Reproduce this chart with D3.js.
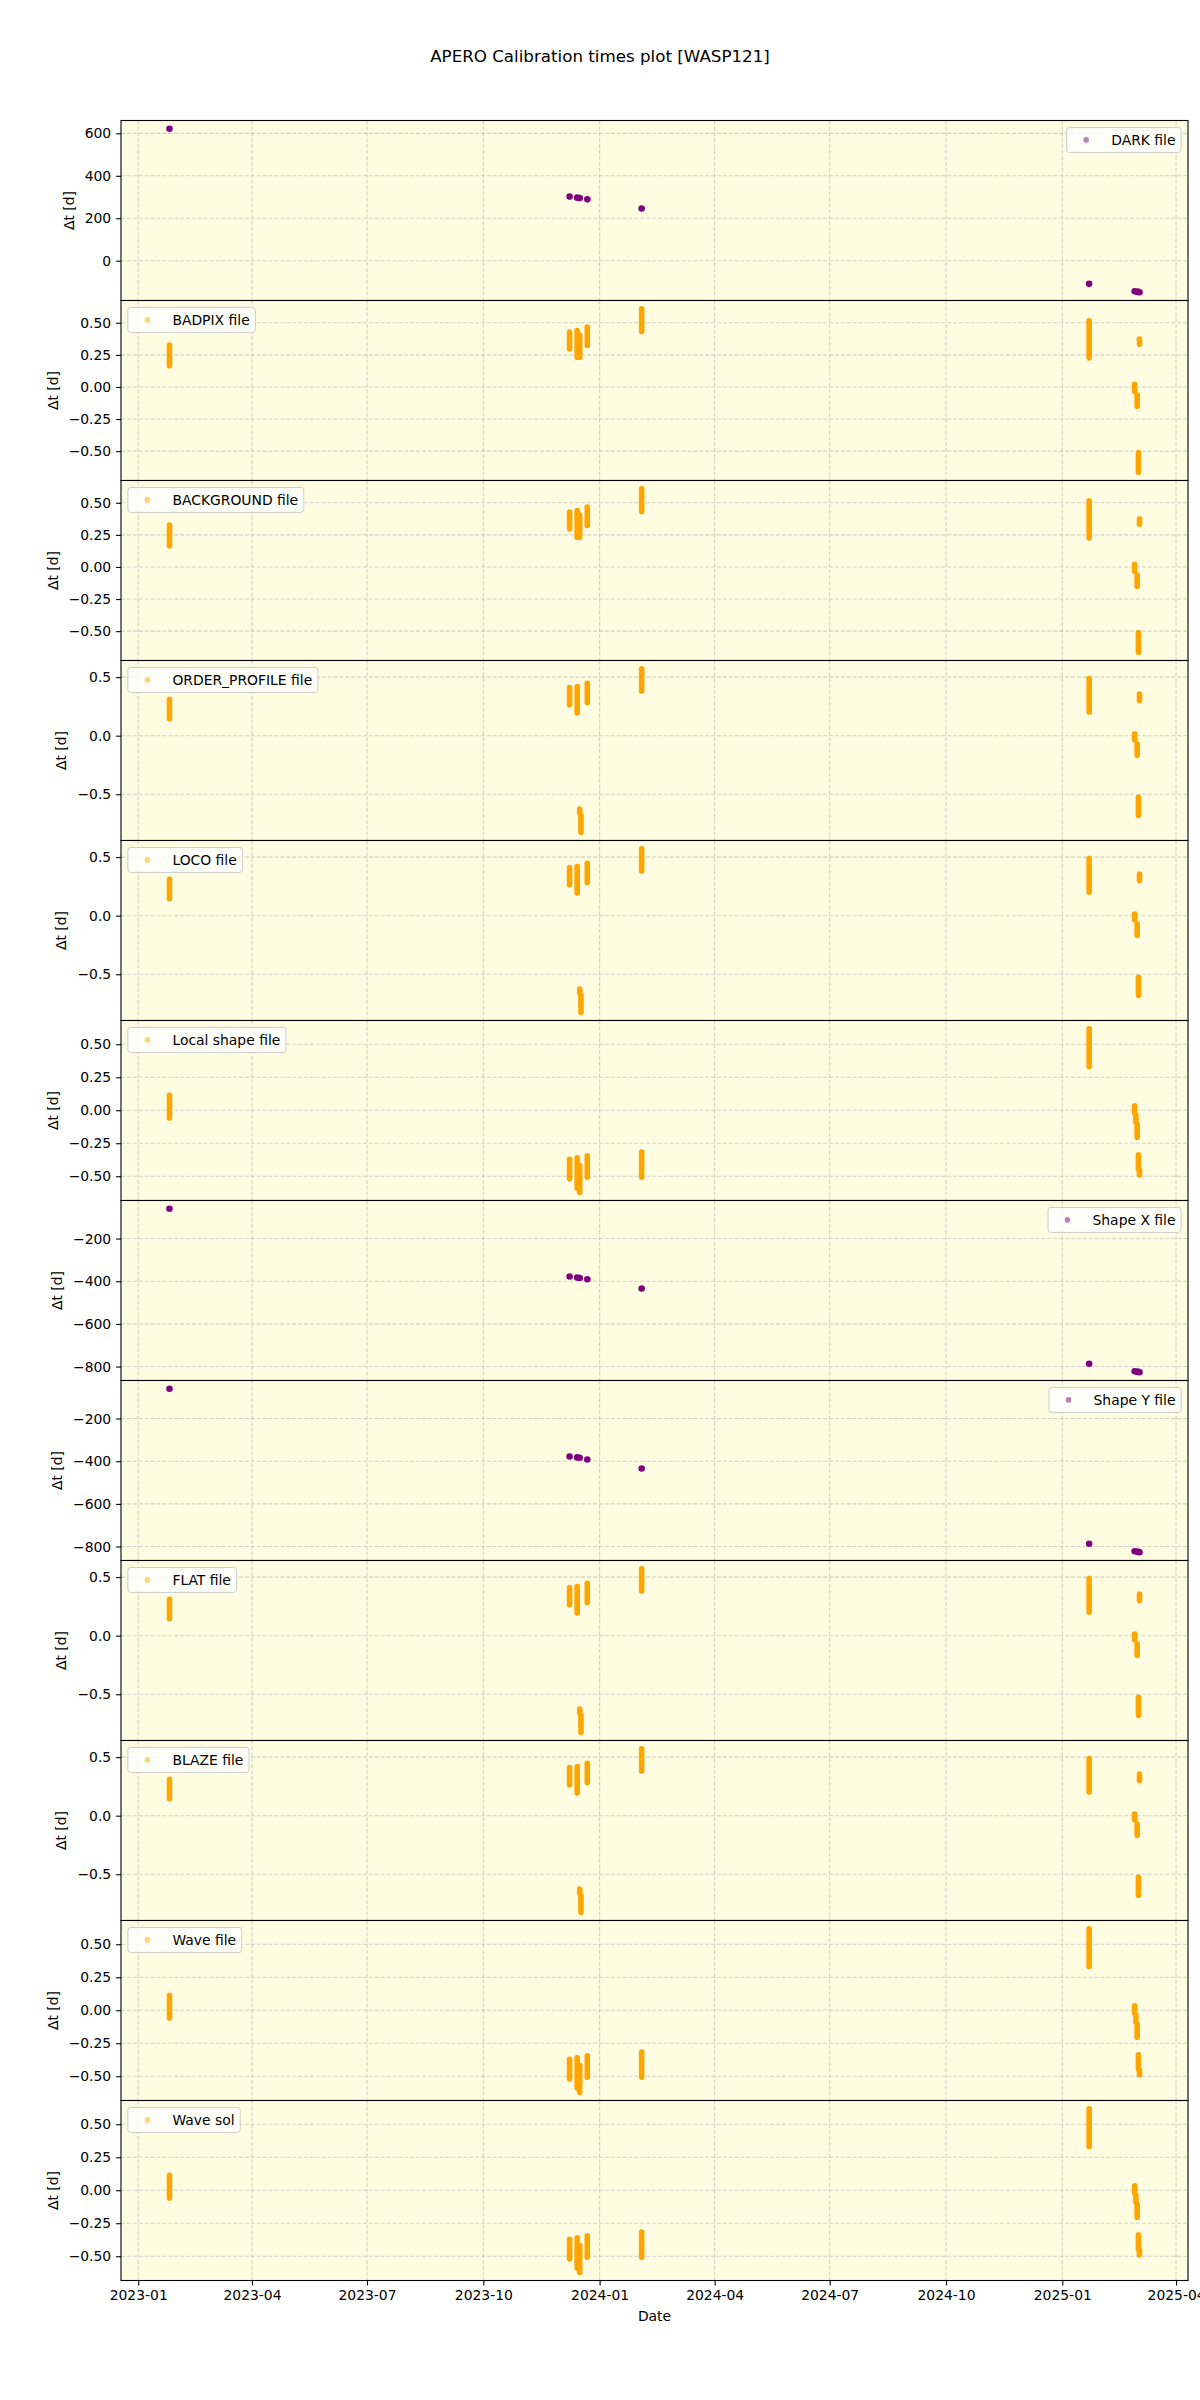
<!DOCTYPE html>
<html>
<head>
<meta charset="utf-8">
<script src="https://cdn.jsdelivr.net/npm/d3@7"></script>
<style>
body { margin: 0; background: #fff; }
text { font-family: "DejaVu Sans", sans-serif; }
</style>
</head>
<body>
<svg id="calib-plot" width="1200" height="2400"></svg>
<script>
// --- values (dt in days) ---
// purple panels: one dot per night [night, dt]
const darkDt = [
    ["2023-01-25 18:00", 622], ["2023-12-08 06:00", 302], ["2023-12-14 06:00", 297],
    ["2023-12-16 06:00", 295], ["2023-12-22 06:00", 289], ["2024-02-03 06:00", 246],
    ["2025-01-22 06:00", -109], ["2025-02-27 06:00", -144], ["2025-03-01 06:00", -146],
    ["2025-03-02 06:00", -147], ["2025-03-03 02:00", -149]
];
const shapeXDt = [
    ["2023-01-25 18:00", -60], ["2023-12-08 06:00", -378], ["2023-12-14 06:00", -383],
    ["2023-12-16 06:00", -385], ["2023-12-22 06:00", -391], ["2024-02-03 06:00", -434],
    ["2025-01-22 06:00", -787], ["2025-02-27 06:00", -822], ["2025-03-01 06:00", -824],
    ["2025-03-02 06:00", -825], ["2025-03-03 02:00", -827]
];
const shapeYDt = [
    ["2023-01-25 18:00", -60], ["2023-12-08 06:00", -378], ["2023-12-14 06:00", -382],
    ["2023-12-16 06:00", -384], ["2023-12-22 06:00", -392], ["2024-02-03 06:00", -434],
    ["2025-01-22 06:00", -787], ["2025-02-27 06:00", -822], ["2025-03-01 06:00", -824],
    ["2025-03-02 06:00", -825], ["2025-03-03 02:00", -827]
];
// orange panels: each night is a run of exposures [night, first dt, last dt]
const badpixRuns = [
    ["2023-01-25 18:00", 0.327, 0.166], ["2023-12-08 06:00", 0.427, 0.297],
    ["2023-12-14 06:00", 0.44, 0.232], ["2023-12-16 06:00", 0.405, 0.232],
    ["2023-12-22 06:00", 0.466, 0.323], ["2024-02-03 06:00", 0.61, 0.432],
    ["2025-01-22 06:00", 0.515, 0.227], ["2025-02-27 06:00", 0.02, -0.034],
    ["2025-03-01 06:00", -0.063, -0.151], ["2025-03-02 06:00", -0.511, -0.665],
    ["2025-03-03 02:00", 0.374, 0.334]
];
const orderRuns = [
    ["2023-01-25 18:00", 0.31, 0.145], ["2023-12-08 06:00", 0.41, 0.264],
    ["2023-12-14 06:00", 0.42, 0.194], ["2023-12-16 06:00", -0.626, -0.66],
    ["2023-12-17 06:00", -0.683, -0.825], ["2023-12-22 06:00", 0.448, 0.284],
    ["2024-02-03 06:00", 0.572, 0.381], ["2025-01-22 06:00", 0.488, 0.202],
    ["2025-02-27 06:00", 0.014, -0.034], ["2025-03-01 06:00", -0.072, -0.168],
    ["2025-03-02 06:00", -0.526, -0.68], ["2025-03-03 02:00", 0.355, 0.30]
];
const shapeRuns = [
    ["2023-01-25 18:00", 0.113, -0.058], ["2023-12-08 06:00", -0.372, -0.52],
    ["2023-12-14 06:00", -0.361, -0.59], ["2023-12-16 06:00", -0.417, -0.622],
    ["2023-12-22 06:00", -0.346, -0.508], ["2024-02-03 06:00", -0.316, -0.508],
    ["2025-01-22 06:00", 0.618, 0.331], ["2025-02-27 06:00", 0.033, -0.02],
    ["2025-02-28 06:00", -0.04, -0.09], ["2025-03-01 06:00", -0.11, -0.205],
    ["2025-03-02 06:00", -0.337, -0.447], ["2025-03-03 02:00", -0.455, -0.49]
];
const bigTicks = [0, 200, 400, 600];
const shapeTicks = [-800, -600, -400, -200];
const quarterTicks = [-0.5, -0.25, 0, 0.25, 0.5];
const halfTicks = [-0.5, 0, 0.5];

const panels = [
    {name: "DARK file", dots: darkDt, ticks: bigTicks, fmt: "d", side: "right"},
    {name: "BADPIX file", runs: badpixRuns, ticks: quarterTicks, fmt: ".2f", side: "left"},
    {name: "BACKGROUND file", runs: badpixRuns, ticks: quarterTicks, fmt: ".2f", side: "left"},
    {name: "ORDER_PROFILE file", runs: orderRuns, ticks: halfTicks, fmt: ".1f", side: "left"},
    {name: "LOCO file", runs: orderRuns, ticks: halfTicks, fmt: ".1f", side: "left"},
    {name: "Local shape file", runs: shapeRuns, ticks: quarterTicks, fmt: ".2f", side: "left"},
    {name: "Shape X file", dots: shapeXDt, ticks: shapeTicks, fmt: "d", side: "right"},
    {name: "Shape Y file", dots: shapeYDt, ticks: shapeTicks, fmt: "d", side: "right"},
    {name: "FLAT file", runs: orderRuns, ticks: halfTicks, fmt: ".1f", side: "left"},
    {name: "BLAZE file", runs: orderRuns, ticks: halfTicks, fmt: ".1f", side: "left"},
    {name: "Wave file", runs: shapeRuns, ticks: quarterTicks, fmt: ".2f", side: "left"},
    {name: "Wave sol", runs: shapeRuns, ticks: quarterTicks, fmt: ".2f", side: "left"}
];

let svg = d3.select("#calib-plot");
let margin = {left: 121, top: 120.5, right: 12};
let width = +svg.attr("width") - margin.left - margin.right;
let panelH = 180;
const FS = 13.9;
const parseT = d3.utcParse("%Y-%m-%d %H:%M");

// matplotlib style autoscale: data extent + 5% each side
let padExtent = (ext) => {
    let p = (ext[1] - ext[0]) * 0.05;
    return [ext[0] - p, ext[1] + p];
};

let allT = [];
for (let p of panels) {
    for (let r of (p.dots || p.runs)) allT.push(+parseT(r[0]));
}
let x = d3.scaleUtc()
    .domain(padExtent(d3.extent(allT)).map(t => new Date(t)))
    .range([0, width]);
let xTicks = x.ticks(d3.utcMonth.every(3));

svg.append("text")
    .attr("x", 600).attr("y", 62)
    .attr("text-anchor", "middle")
    .attr("font-size", 16.7)
    .text("APERO Calibration times plot [WASP121]");

panels.forEach((p, i) => {
    let g = svg.append("g").attr("transform", `translate(${margin.left}, ${margin.top + i * panelH})`);
    let vals = p.dots ? p.dots.map(d => d[1]) : p.runs.flatMap(d => [d[1], d[2]]);
    let y = d3.scaleLinear().domain(padExtent(d3.extent(vals))).range([panelH, 0]);
    let color = p.dots ? "purple" : "orange";

    g.append("rect").attr("width", width).attr("height", panelH).attr("fill", "#fefde1");

    // dashed grid
    g.selectAll("line.hgrid").data(p.ticks).join("line")
        .attr("x1", 0).attr("x2", width)
        .attr("y1", d => y(d)).attr("y2", d => y(d))
        .attr("stroke", "#b0b0b0").attr("stroke-opacity", 0.55)
        .attr("stroke-width", 1.1).attr("stroke-dasharray", "4.1,1.8");
    g.selectAll("line.vgrid").data(xTicks).join("line")
        .attr("x1", d => x(d)).attr("x2", d => x(d))
        .attr("y1", 0).attr("y2", panelH)
        .attr("stroke", "#b0b0b0").attr("stroke-opacity", 0.55)
        .attr("stroke-width", 1.1).attr("stroke-dasharray", "4.1,1.8");

    if (p.runs) {
        g.selectAll("line.run").data(p.runs).join("line")
            .attr("x1", d => x(parseT(d[0]))).attr("x2", d => x(parseT(d[0])))
            .attr("y1", d => y(d[1])).attr("y2", d => y(d[2]))
            .attr("stroke", color).attr("stroke-width", 5.6)
            .attr("stroke-linecap", "round");
    } else {
        g.selectAll("circle.pt").data(p.dots).join("circle")
            .attr("cx", d => x(parseT(d[0]))).attr("cy", d => y(d[1]))
            .attr("r", 3.3).attr("fill", color);
    }

    let ax = g.append("g")
        .call(d3.axisLeft(y).tickValues(p.ticks).tickFormat(d3.format(p.fmt))
            .tickSize(4.9).tickPadding(4.9));
    ax.select(".domain").remove();
    ax.attr("font-family", null).attr("font-size", FS);
    ax.selectAll("line").attr("stroke-width", 1.1);
    let bb = ax.node().getBBox();
    g.append("text")
        .attr("transform", `translate(${bb.x - 11}, ${panelH / 2}) rotate(-90)`)
        .attr("text-anchor", "middle")
        .attr("font-size", FS)
        .text("\u0394t [d]");

    // legend box
    let leg = g.append("g");
    let box = leg.append("rect");
    let lt = leg.append("text").attr("font-size", FS).attr("dy", "0.35em").text(p.name);
    let tw = lt.node().getComputedTextLength();
    let lw = 5.6 + 27.8 + 11.1 + tw + 5.6, lh = 25;
    let lx = p.side === "left" ? 6.9 : width - 6.9 - lw;
    let ly = 6.9;
    box.attr("x", lx).attr("y", ly).attr("width", lw).attr("height", lh)
        .attr("rx", 2.8)
        .attr("fill", "white").attr("fill-opacity", 0.8)
        .attr("stroke", "#cccccc").attr("stroke-width", 1);
    leg.append("circle").attr("cx", lx + 19.5).attr("cy", ly + lh / 2)
        .attr("r", 2.8).attr("fill", color).attr("fill-opacity", 0.5);
    lt.attr("x", lx + 44.5).attr("y", ly + lh / 2);

    g.append("rect").attr("width", width).attr("height", panelH)
        .attr("fill", "none").attr("stroke", "black").attr("stroke-width", 1.1);

    if (i === panels.length - 1) {
        let bx = g.append("g")
            .attr("transform", `translate(0, ${panelH})`)
            .call(d3.axisBottom(x).tickValues(xTicks).tickFormat(d3.utcFormat("%Y-%m"))
                .tickSize(4.9).tickPadding(4.9));
        bx.select(".domain").remove();
        bx.attr("font-family", null).attr("font-size", FS);
        bx.selectAll("line").attr("stroke-width", 1.1);
        g.append("text")
            .attr("x", width / 2).attr("y", panelH + 40)
            .attr("text-anchor", "middle")
            .attr("font-size", FS)
            .text("Date");
    }
});
</script>
</body>
</html>
